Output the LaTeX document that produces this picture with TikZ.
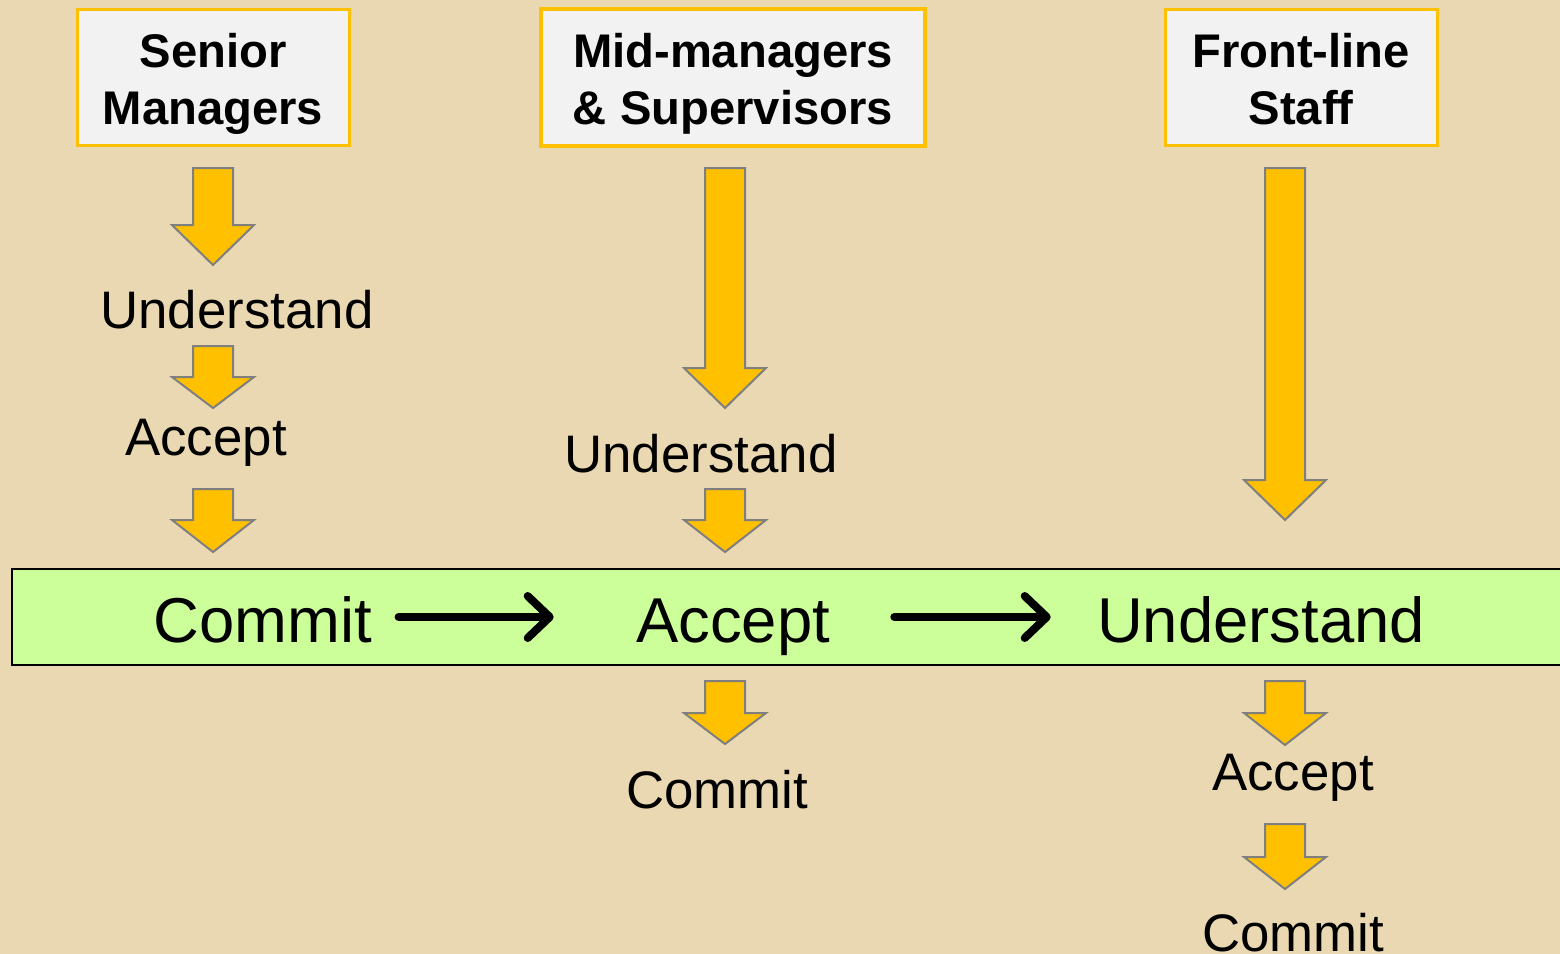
\documentclass[tikz,border=0pt]{standalone}
\usepackage{fontspec}
\setmainfont{Liberation Sans}
\usetikzlibrary{arrows.meta}
\definecolor{parchment}{HTML}{E9D8B1}
\definecolor{gold}{HTML}{FFC000}
\definecolor{boxgray}{HTML}{F2F2F2}
\definecolor{bandgreen}{HTML}{CCFF99}
\definecolor{edgegray}{HTML}{7F7F7F}
\tikzset{
  header/.style={draw=gold,line width=1.5pt,fill=boxgray,inner sep=0},
  headtext/.style={align=center,inner sep=0,anchor=north,
    font=\fontsize{23.6}{28.5}\selectfont\bfseries},
  stage/.style={inner sep=0,anchor=base,font=\fontsize{26.4}{30}\selectfont},
  bandtext/.style={inner sep=0,anchor=base,font=\fontsize{31.7}{36}\selectfont},
  blockarrow/.style={fill=gold,draw=edgegray,line width=1pt},
  flow/.style={line width=4pt,line cap=round,-{Straight Barb[length=11pt,width=21pt,line cap=round,line join=round]}}
}
% block arrow: x, top, start of head, tip
\newcommand{\downblock}[4]{%
  \draw[blockarrow] (#1-20,#2) -- (#1+20,#2) -- (#1+20,#3) -- (#1+41,#3) -- (#1,#4)
    -- (#1-41,#3) -- (#1-20,#3) -- cycle;}
\begin{document}
\begin{tikzpicture}[x=0.5pt,y=-0.5pt]
	\fill[parchment] (0,0) rectangle (1560,954);
	\useasboundingbox (0,0) rectangle (1560,954);
	% green band
	\draw[fill=bandgreen,line width=1pt] (12,569) rectangle (1580,665);
	% headers
	\node[header,minimum width=136pt,minimum height=68pt] (senior) at (213,77) {};
	\node[headtext] (seniortext) at (213,33) {Senior\\Managers};
	\node[header,line width=2pt,minimum width=192pt,minimum height=68.5pt] (mid) at (733,77.5) {};
	\node[headtext] (midtext) at (733,33) {Mid-managers\\\& Supervisors};
	\node[header,minimum width=136pt,minimum height=68pt] (front) at (1301,77) {};
	\node[headtext] (fronttext) at (1301,33) {Front-line\\Staff};
	% senior managers
	\downblock{213}{168}{225}{265}
	\node[stage] (su) at (237,328) {Understand};
	\downblock{213}{346}{377}{408}
	\node[stage] (sa) at (206,455) {Accept};
	\downblock{213}{489}{520}{552}
	% mid-managers
	\downblock{725}{168}{368}{408}
	\node[stage] (mu) at (701,472) {Understand};
	\downblock{725}{489}{520}{552}
	\downblock{725}{681}{713}{744}
	\node[stage] (mc) at (717,808) {Commit};
	% front-line staff
	\downblock{1285}{168}{480}{520}
	\downblock{1285}{681}{713}{745}
	\node[stage] (fa) at (1293,790) {Accept};
	\downblock{1285}{824}{857}{889}
	\node[stage] (fc) at (1293,951) {Commit};
	% band
	\node[bandtext] (commit) at (263,642) {Commit};
	\node[bandtext] (accept) at (733,642) {Accept};
	\node[bandtext] (understand) at (1261,642) {Understand};
	\draw[flow,shorten <=13pt,shorten >=41pt] ([yshift=12.5pt]commit.base east) -- ([yshift=12.5pt]accept.base west);
	\draw[flow,shorten <=32pt,shorten >=23pt] ([yshift=12.5pt]accept.base east) -- ([yshift=12.5pt]understand.base west);
\end{tikzpicture}
\end{document}
